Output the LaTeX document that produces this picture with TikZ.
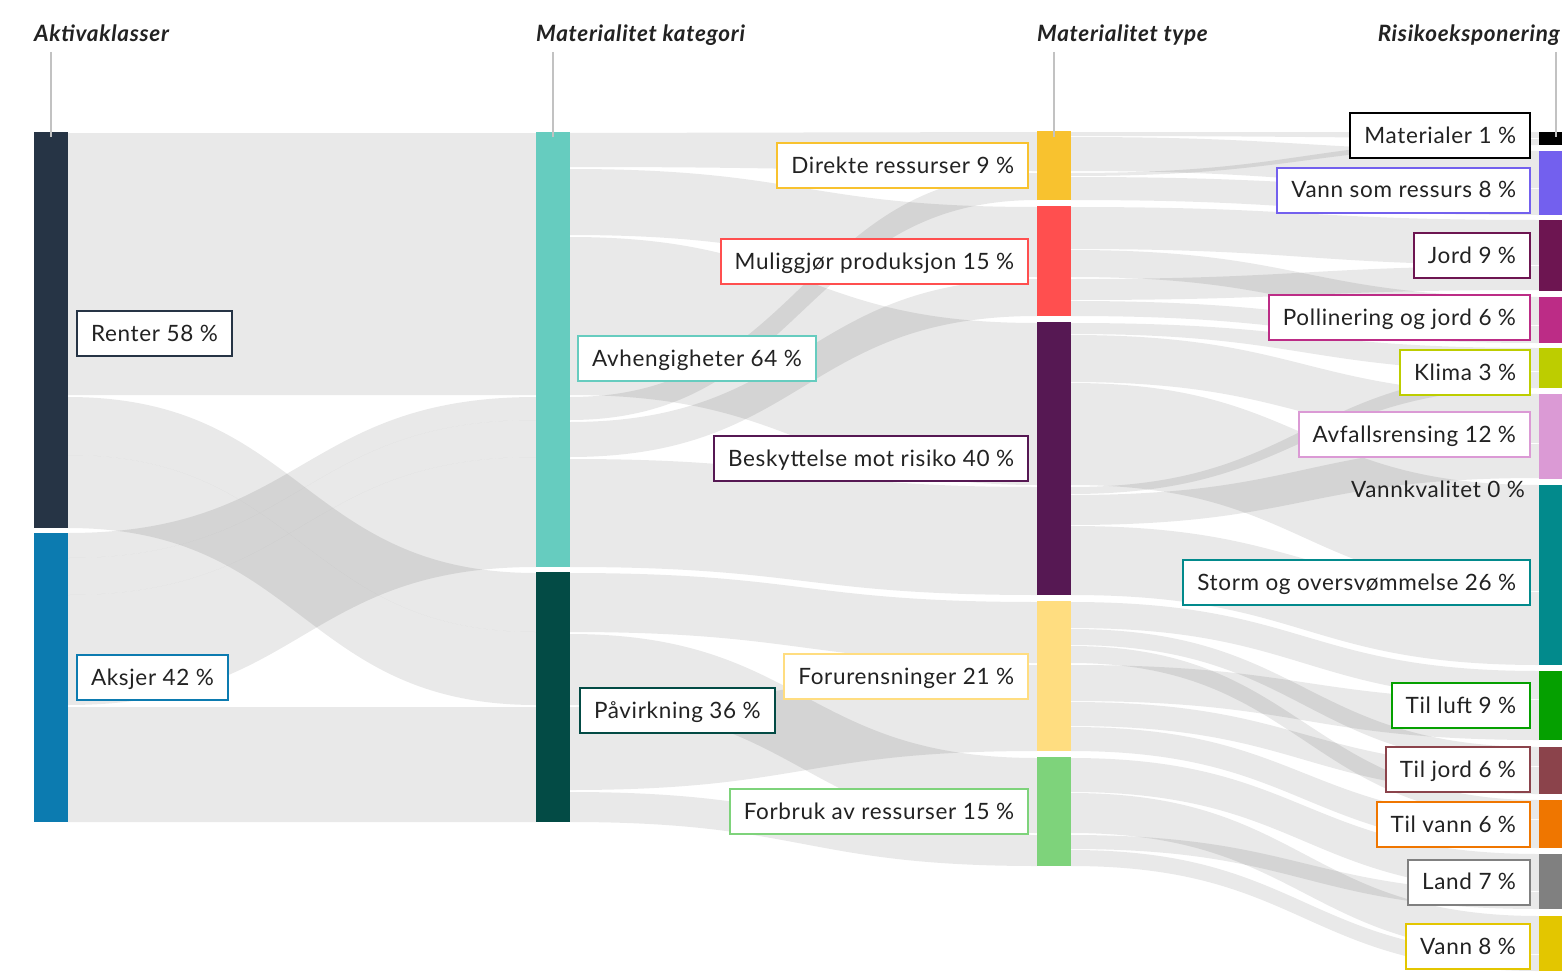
\documentclass[tikz,border=0pt]{standalone}
\usepackage{fontspec}
\setmainfont{Lato}[LetterSpace=3.0]
\definecolor{txt}{HTML}{222222}
\definecolor{lineg}{HTML}{C2C2C2}
\definecolor{cRenter}{HTML}{263445}
\definecolor{cAksjer}{HTML}{0C7BB0}
\definecolor{cAvh}{HTML}{66CCBF}
\definecolor{cPav}{HTML}{034B45}
\definecolor{cDir}{HTML}{F8C22F}
\definecolor{cMul}{HTML}{FF4F4F}
\definecolor{cBes}{HTML}{561853}
\definecolor{cFor}{HTML}{FFDD80}
\definecolor{cFbr}{HTML}{7ED37B}
\definecolor{cMat}{HTML}{000000}
\definecolor{cVsr}{HTML}{7360EE}
\definecolor{cJord}{HTML}{6D1551}
\definecolor{cPol}{HTML}{BC2C86}
\definecolor{cKli}{HTML}{BDCD00}
\definecolor{cAvf}{HTML}{DB9AD5}
\definecolor{cSto}{HTML}{028A8C}
\definecolor{cLuft}{HTML}{05A000}
\definecolor{cTjord}{HTML}{8B434B}
\definecolor{cTvann}{HTML}{EF7600}
\definecolor{cLand}{HTML}{808080}
\definecolor{cVann}{HTML}{E3C600}
\newcommand\labfont{\fontsize{22.5}{27}\selectfont}
\newcommand\hdrfont{\fontsize{22.5}{27}\selectfont\bfseries\itshape}
% x1, y1 top, y1 bottom, x2, y2 top, y2 bottom
\newcommand\flowband[6]{%
  \fill[flowfill] (#1,#2) .. controls ({(#1+#4)/2},#2) and ({(#1+#4)/2},#5) .. (#4,#5)
    -- (#4,#6) .. controls ({(#1+#4)/2},#6) and ({(#1+#4)/2},#3) .. (#1,#3) -- cycle;}
\begin{document}
\begin{tikzpicture}[x=1pt,y=-1pt,
  flowfill/.style={fill=black,fill opacity=0.085},
  lab/.style={draw=#1,line width=2pt,fill=white,text=txt,font=\labfont,
    inner xsep=14pt,inner ysep=0pt,minimum height=45pt,text height=19pt,text depth=4pt},
  hdr/.style={font=\hdrfont,text=txt,inner sep=0pt},
  vline/.style={draw=lineg,line width=1.2pt}]
\useasboundingbox (0,0) rectangle (1562,971);
\fill[white] (0,0) rectangle (1562,971);

% ---- flows column 1 -> 2
\flowband{68}{133}{395}{536}{133}{395}
\flowband{68}{397}{455}{536}{573}{632}
\flowband{68}{455}{528}{536}{632}{705}
\flowband{68}{533}{558}{536}{397}{420}
\flowband{68}{558}{595}{536}{420}{457}
\flowband{68}{595}{705}{536}{457}{567}
\flowband{68}{707}{822}{536}{707}{822}

% ---- flows column 2 -> 3
\flowband{570}{133}{167}{1037}{132}{171}
\flowband{570}{169}{235}{1037}{207}{277}
\flowband{570}{237}{395}{1037}{323}{485}
\flowband{570}{397}{420}{1037}{173}{200}
\flowband{570}{422}{457}{1037}{279}{316}
\flowband{570}{459}{567}{1037}{487}{595}
\flowband{570}{573}{632}{1037}{602}{663}
\flowband{570}{634}{705}{1037}{758}{833}
\flowband{570}{707}{790}{1037}{665}{751}
\flowband{570}{792}{822}{1037}{835}{866}

% ---- flows column 3 -> 4
\flowband{1071}{132}{136}{1539}{132}{138}
\flowband{1071}{137}{171}{1539}{151}{188}
\flowband{1071}{173}{176}{1539}{139}{145}
\flowband{1071}{177}{200}{1539}{189}{215}
\flowband{1071}{207}{249}{1539}{220}{265}
\flowband{1071}{250}{277}{1539}{297}{325}
\flowband{1071}{279}{300}{1539}{266}{290}
\flowband{1071}{301}{316}{1539}{326}{343}
\flowband{1071}{323}{334}{1539}{348}{371}
\flowband{1071}{335}{382}{1539}{394}{443}
\flowband{1071}{383}{485}{1539}{485}{591}
\flowband{1071}{487}{494}{1539}{372}{388}
\flowband{1071}{495}{525}{1539}{444}{478}
\flowband{1071}{526}{595}{1539}{592}{665}
\flowband{1071}{602}{628}{1539}{671}{699}
\flowband{1071}{629}{645}{1539}{747}{766}
\flowband{1071}{646}{663}{1539}{800}{819}
\flowband{1071}{665}{701}{1539}{700}{740}
\flowband{1071}{702}{726}{1539}{767}{794}
\flowband{1071}{727}{751}{1539}{820}{848}
\flowband{1071}{758}{792}{1539}{854}{891}
\flowband{1071}{793}{833}{1539}{916}{954}
\flowband{1071}{835}{849}{1539}{892}{909}
\flowband{1071}{850}{866}{1539}{955}{971}

% ---- bars
\fill[cRenter] (34,132) rectangle (68,528);
\fill[cAksjer] (34,533) rectangle (68,822);
\fill[cAvh] (536,132) rectangle (570,567);
\fill[cPav] (536,572) rectangle (570,822);
\fill[cDir] (1037,131) rectangle (1071,200);
\fill[cMul] (1037,206) rectangle (1071,316);
\fill[cBes] (1037,322) rectangle (1071,595);
\fill[cFor] (1037,601) rectangle (1071,751);
\fill[cFbr] (1037,757) rectangle (1071,866);
\fill[cMat] (1539,132) rectangle (1562,145);
\fill[cVsr] (1539,151) rectangle (1562,215);
\fill[cJord] (1539,220) rectangle (1562,291);
\fill[cPol] (1539,297) rectangle (1562,343);
\fill[cKli] (1539,348) rectangle (1562,388);
\fill[cAvf] (1539,394) rectangle (1562,479);
\fill[cSto] (1539,485) rectangle (1562,665);
\fill[cLuft] (1539,671) rectangle (1562,740);
\fill[cTjord] (1539,747) rectangle (1562,794);
\fill[cTvann] (1539,800) rectangle (1562,848);
\fill[cLand] (1539,854) rectangle (1562,909);
\fill[cVann] (1539,916) rectangle (1562,971);

% ---- headers
\node[hdr,anchor=base west] (h1) at (34,42) {Aktivaklasser};
\node[hdr,anchor=base west] (h2) at (536,42) {Materialitet kategori};
\node[hdr,anchor=base west] (h3) at (1037,42) {Materialitet type};
\node[hdr,anchor=base east] (h4) at (1560,42) {Risikoeksponering};
\draw[vline] (51,52) -- (51,137);
\draw[vline] (553,52) -- (553,137);
\draw[vline] (1054,52) -- (1054,137);
\draw[vline] (1556,52) -- (1556,137);

% ---- labels column 1 and 2
\node[lab=cRenter,anchor=west] (renter) at (76,333.5) {Renter 58 \%};
\node[lab=cAksjer,anchor=west] (aksjer) at (76,677.5) {Aksjer 42 \%};
\node[lab=cAvh,anchor=west] (avh) at (577,358.5) {Avhengigheter 64 \%};
\node[lab=cPav,anchor=west] (pav) at (579,710.5) {Påvirkning 36 \%};

% ---- labels column 3
\node[lab=cDir,anchor=east] (dir) at (1029,165.5) {Direkte ressurser 9 \%};
\node[lab=cMul,anchor=east] (mul) at (1029,261.5) {Muliggjør produksjon 15 \%};
\node[lab=cBes,anchor=east] (bes) at (1029,458.5) {Beskyttelse mot risiko 40 \%};
\node[lab=cFor,anchor=east] (for) at (1029,676.5) {Forurensninger 21 \%};
\node[lab=cFbr,anchor=east] (fbr) at (1029,811.5) {Forbruk av ressurser 15 \%};

% ---- labels column 4
\node[lab=cMat,anchor=east] (mat) at (1531,135.5) {Materialer 1 \%};
\node[lab=cVsr,anchor=east] (vsr) at (1531,190) {Vann som ressurs 8 \%};
\node[lab=cJord,anchor=east] (jord) at (1531,255.5) {Jord 9 \%};
\node[lab=cPol,anchor=east] (pol) at (1531,317.5) {Pollinering og jord 6 \%};
\node[lab=cKli,anchor=east] (kli) at (1531,372.5) {Klima 3 \%};
\node[lab=cAvf,anchor=east] (avf) at (1531,434.5) {Avfallsrensing 12 \%};
\node[text=txt,font=\labfont,inner sep=0pt,anchor=base east] (vkv) at (1525,497) {Vannkvalitet 0 \%};
\node[lab=cSto,anchor=east] (sto) at (1531,582.5) {Storm og oversvømmelse 26 \%};
\node[lab=cLuft,anchor=east] (luft) at (1531,705.5) {Til luft 9 \%};
\node[lab=cTjord,anchor=east] (tjord) at (1531,769.5) {Til jord 6 \%};
\node[lab=cTvann,anchor=east] (tvann) at (1531,824.5) {Til vann 6 \%};
\node[lab=cLand,anchor=east] (land) at (1531,882) {Land 7 \%};
\node[lab=cVann,anchor=east] (vann) at (1531,946.5) {Vann 8 \%};
\end{tikzpicture}
\end{document}
